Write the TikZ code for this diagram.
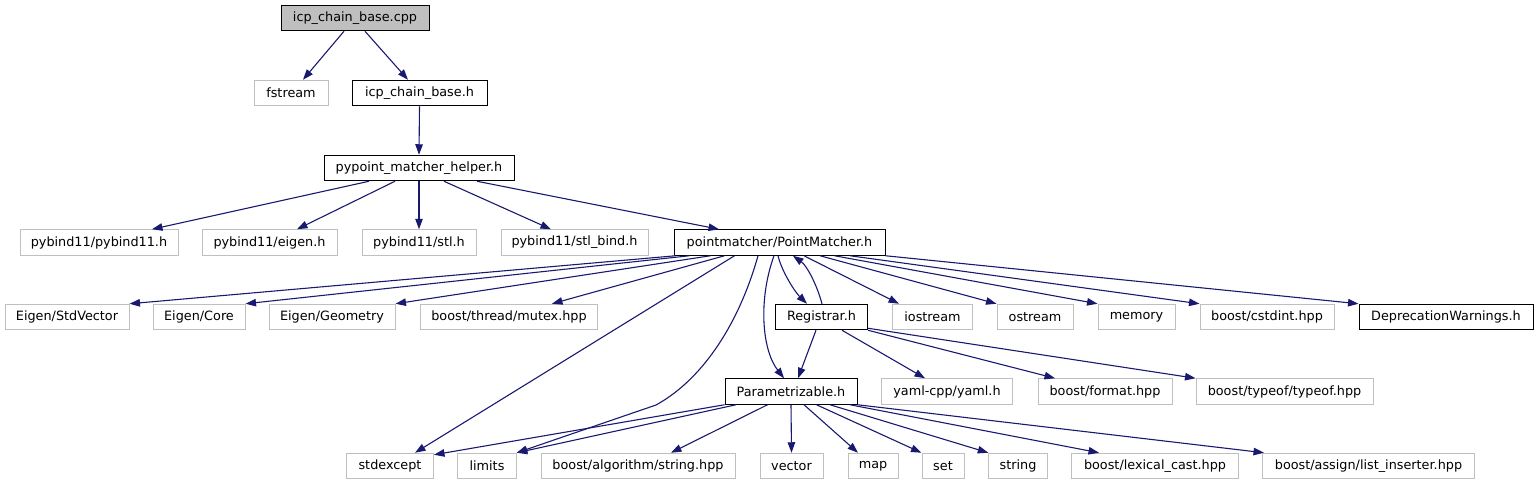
\documentclass[tikz,border=0pt]{standalone}
\usepackage{fontspec}
\setmainfont{DejaVu Sans}
\usetikzlibrary{arrows.meta}
\definecolor{edgeblue}{HTML}{191970}
\definecolor{extgrey}{HTML}{BFBFBF}
\begin{document}
\begin{tikzpicture}[x = 1pt, y = -1pt,
	file/.style={rectangle, draw, line width=1pt, inner sep=0pt, minimum height=25.5pt, font=\fontsize{12.8}{15}\selectfont},
	rootfile/.style={file, fill=extgrey},
	extfile/.style={file, draw=extgrey},
	inc/.style={draw=edgeblue, line width=1.1pt, -{Triangle[length=10.5pt, width=7.5pt]}}]
	\useasboundingbox (0, 0) rectangle (1538, 485);
	
	% Root
	\node[rootfile, minimum width=148pt] (cpp) at (355, 18) {icp\_chain\_base.cpp};
	
	% First level
	\node[extfile, minimum width=74pt] (fstream) at (291, 93) {fstream};
	\node[file, minimum width=135pt] (icph) at (419.5, 93) {icp\_chain\_base.h};
	
	% Helper
	\node[file, minimum width=190pt] (helper) at (419, 168) {pypoint\_matcher\_helper.h};
	
	% Helper includes
	\node[extfile, minimum width=158pt] (pyb) at (99, 242.5) {pybind11/pybind11.h};
	\node[extfile, minimum width=135pt] (eig) at (269.5, 242.5) {pybind11/eigen.h};
	\node[extfile, minimum width=114pt] (stl) at (419, 242.5) {pybind11/stl.h};
	\node[extfile, minimum width=147pt] (stlb) at (574.5, 242.5) {pybind11/stl\_bind.h};
	\node[file, minimum width=211pt] (pm) at (779.5, 242.5) {pointmatcher/PointMatcher.h};
	
	% PointMatcher includes
	\node[extfile, minimum width=124pt] (stdvec) at (67, 317) {Eigen/StdVector};
	\node[extfile, minimum width=92pt] (core) at (199, 317) {Eigen/Core};
	\node[extfile, minimum width=126pt] (geom) at (332, 317) {Eigen/Geometry};
	\node[extfile, minimum width=177pt] (mutex) at (509, 317) {boost/thread/mutex.hpp};
	\node[file, minimum width=92pt] (reg) at (821.5, 317) {Registrar.h};
	\node[extfile, minimum width=80pt] (iostream) at (932.5, 317) {iostream};
	\node[extfile, minimum width=76pt] (ostream) at (1035, 317) {ostream};
	\node[extfile, minimum width=77pt] (memory) at (1136.5, 317) {memory};
	\node[extfile, minimum width=134pt] (cstdint) at (1267, 317) {boost/cstdint.hpp};
	\node[file, minimum width=174pt] (depr) at (1446, 317) {DeprecationWarnings.h};
	
	% Registrar includes
	\node[file, minimum width=132pt] (param) at (791, 391.5) {Parametrizable.h};
	\node[extfile, minimum width=131pt] (yaml) at (947, 391.5) {yaml-cpp/yaml.h};
	\node[extfile, minimum width=134pt] (format) at (1105, 391.5) {boost/format.hpp};
	\node[extfile, minimum width=177pt] (typeof) at (1284.5, 391.5) {boost/typeof/typeof.hpp};
	
	% Parametrizable includes
	\node[extfile, minimum width=87pt] (stdexcept) at (390, 466) {stdexcept};
	\node[extfile, minimum width=58.5pt] (limits) at (487, 466) {limits};
	\node[extfile, minimum width=194pt] (algstr) at (638, 466) {boost/algorithm/string.hpp};
	\node[extfile, minimum width=63pt] (vector) at (791.5, 466) {vector};
	\node[extfile, minimum width=50pt] (map) at (873, 466) {map};
	\node[extfile, minimum width=42pt] (set) at (943, 466) {set};
	\node[extfile, minimum width=58.5pt] (string) at (1018, 466) {string};
	\node[extfile, minimum width=166.5pt] (lexcast) at (1155, 466) {boost/lexical\_cast.hpp};
	\node[extfile, minimum width=212pt] (assign) at (1368.5, 466) {boost/assign/list\_inserter.hpp};
	
	% Edges
	% Root
	\draw[inc] ([xshift=-11pt]cpp.south) -- ([xshift=12pt]fstream.north);
	\draw[inc] ([xshift=10pt]cpp.south) -- ([xshift=-11.5pt]icph.north);
	\draw[inc] (icph.south) -- (helper.north);
	
	% Helper
	\draw[inc] ([xshift=-50pt]helper.south) -- ([xshift=53pt]pyb.north);
	\draw[inc] ([xshift=-24pt]helper.south) -- ([xshift=27.5pt]eig.north);
	\draw[inc] (helper.south) -- (stl.north);
	\draw[inc] ([xshift=25pt]helper.south) -- ([xshift=-23.5pt]stlb.north);
	\draw[inc] ([xshift=58pt]helper.south) -- ([xshift=-60.5pt]pm.north);
	
	% PointMatcher
	\draw[inc] ([xshift=2pt]pm.south west) -- (stdvec.north east);
	\draw[inc] ([xshift=-90pt]pm.south) -- (core.north east);
	\draw[inc] ([xshift=-69pt]pm.south) -- (geom.north east);
	\draw[inc] ([xshift=-55pt]pm.south) -- ([xshift=43pt]mutex.north);
	\draw[inc] ([xshift=-45pt]pm.south) -- ([xshift=25pt]stdexcept.north);
	\draw[inc] ([xshift=-21.5pt]pm.south) .. controls (740, 320) and (705, 378) .. (656, 405) -- (limits.north east);
	\draw[inc] ([xshift=-5.5pt]pm.south) .. controls (758, 300) and (762, 350) .. ([xshift=-7pt]param.north);
	\draw[inc] ([xshift=-1.5pt]pm.south) .. controls (782, 272) and (795, 292) .. ([xshift=-14.5pt]reg.north);
	\draw[inc] ([xshift=0.5pt]reg.north) .. controls (816, 282) and (806, 265) .. ([xshift=13.5pt]pm.south);
	\draw[inc] ([xshift=24.5pt]pm.south) -- ([xshift=-33.5pt]iostream.north);
	\draw[inc] ([xshift=40.5pt]pm.south) -- (ostream.north west);
	\draw[inc] ([xshift=55pt]pm.south) -- (memory.north west);
	\draw[inc] ([xshift=70.5pt]pm.south) -- (cstdint.north west);
	\draw[inc] (pm.south east) -- (depr.north west);
	
	% Registrar
	\draw[inc] ([xshift=-5.5pt]reg.south) -- ([xshift=7pt]param.north);
	\draw[inc] ([xshift=20.5pt]reg.south) -- ([xshift=-22pt]yaml.north);
	\draw[inc] (reg.south east) -- ([xshift=-50pt]format.north);
	\draw[inc] ([yshift=2pt]reg.south east) -- (typeof.north west);
	
	% Parametrizable
	\draw[inc] (param.south west) -- ([yshift=-2pt]stdexcept.north east);
	\draw[inc] ([xshift=-55pt]param.south) -- (limits.north east);
	\draw[inc] ([xshift=-23.5pt]param.south) -- ([xshift=33pt]algstr.north);
	\draw[inc] (param.south) -- (vector.north);
	\draw[inc] ([xshift=13pt]param.south) -- ([xshift=-15pt]map.north);
	\draw[inc] ([xshift=25.5pt]param.south) -- (set.north west);
	\draw[inc] ([xshift=39pt]param.south) -- (string.north west);
	\draw[inc] ([xshift=59pt]param.south) -- ([xshift=-56pt]lexcast.north);
	\draw[inc] (param.south east) -- ([xshift=2pt]assign.north west);
\end{tikzpicture}
\end{document}
